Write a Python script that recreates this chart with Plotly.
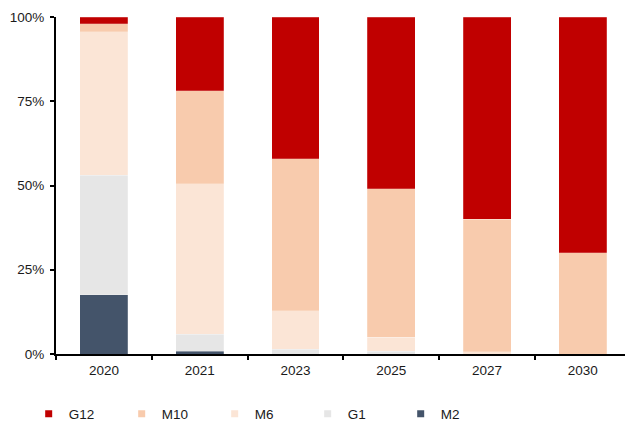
import plotly.graph_objects as go

# Share of wafer sizes by year (percent of total)
years = ["2020", "2021", "2023", "2025", "2027", "2030"]
m2 = [17.6, 0.8, 0.0, 0.0, 0.0, 0.0]
g1 = [35.4, 5.0, 1.4, 0.8, 0.0, 0.0]
m6 = [42.6, 44.7, 11.5, 4.1, 0.7, 0.0]
m10 = [2.4, 27.6, 45.0, 44.1, 39.3, 30.0]
g12 = [2.0, 21.9, 42.1, 51.0, 60.0, 70.0]

series = [
    ("M2", m2, "#44546A"),
    ("G1", g1, "#E6E6E6"),
    ("M6", m6, "#FBE5D6"),
    ("M10", m10, "#F8CBAD"),
    ("G12", g12, "#C00000"),
]

fig = go.Figure()
for name, vals, color in series:
    fig.add_trace(go.Bar(
        x=years, y=vals, name=name, legendgroup=name, showlegend=False,
        marker=dict(color=color, line=dict(color="rgba(255,255,255,0.35)", width=0.6)),
        width=0.5,
    ))
    # small square legend key for the series
    fig.add_trace(go.Scatter(
        x=[None], y=[None], name=name, legendgroup=name, mode="markers",
        marker=dict(symbol="square", size=7, color=color),
    ))

fig.update_layout(
    width=625, height=424,
    margin=dict(l=56, r=0, t=17, b=70, autoexpand=False),
    barmode="stack",
    plot_bgcolor="white", paper_bgcolor="white",
    font=dict(family="Liberation Sans, Arial, sans-serif", size=13.5, color="#1a1a1a"),
    showlegend=True,
    legend=dict(
        orientation="h", traceorder="reversed",
        x=-0.048, xanchor="left", y=-0.178, yanchor="middle",
        entrywidth=48, entrywidthmode="pixels",
        itemwidth=30, font=dict(size=13.5),
    ),
    xaxis=dict(
        type="category", range=[-0.5, 5.44],
        showline=True, linecolor="black", linewidth=2,
        ticks="outside", ticklen=4, tickwidth=1.5, tickcolor="black",
        tickson="boundaries", showgrid=False, ticklabelstandoff=3,
    ),
    yaxis=dict(
        range=[0, 100], tickvals=[0, 25, 50, 75, 100],
        ticktext=["0%", "25%", "50%", "75%", "100%"],
        showline=True, linecolor="black", linewidth=2,
        ticks="outside", ticklen=4, tickwidth=1.5, tickcolor="black",
        showgrid=False, zeroline=False, ticklabelstandoff=3,
    ),
)

fig.write_html("out.html")
